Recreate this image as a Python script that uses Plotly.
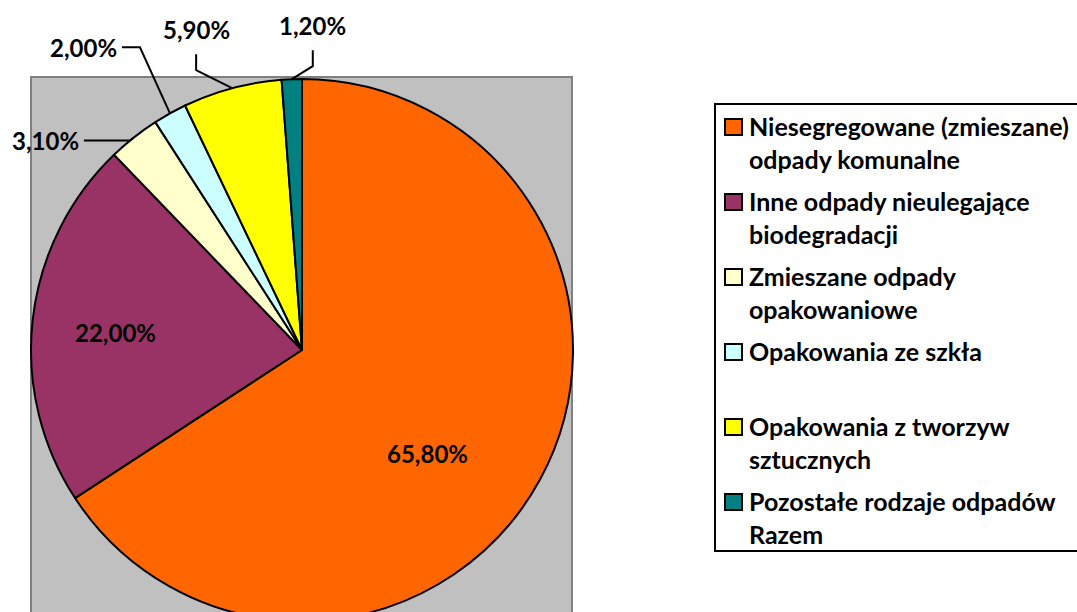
import math
import plotly.graph_objects as go

labels = [
    "Niesegregowane (zmieszane)<br>odpady komunalne",
    "Inne odpady nieulegające<br>biodegradacji",
    "Zmieszane odpady<br>opakowaniowe",
    "Opakowania ze szkła<br> ",
    "Opakowania z tworzyw<br>sztucznych",
    "Pozostałe rodzaje odpadów<br>Razem",
]
values = [65.8, 22.0, 3.1, 2.0, 5.9, 1.2]
colors = ["#FF6600", "#993366", "#FFFFCC", "#CCFFFF", "#FFFF00", "#008080"]

W, H = 1077, 630
CX, CY, R = 302, 350, 271
FONT = "Lato"
FS = 24

def px(x):
    return x / W

def py(y):
    return 1 - y / H

def pct(v):
    return f"{v:.2f}%".replace(".", ",")

# inside labels: radial fraction and angle nudge (deg)
inside = {0: (0.60, 11), 1: (0.69, -1)}
# callouts: elbow offset from slice edge, line end, label anchor (pixels)
callouts = {
    2: dict(elbow=(-4, 3), end=(-50, 3), anchor="right"),
    3: dict(elbow=(-30, -66), end=(-48, -66), anchor="right"),
    4: dict(elbow=(-36, -18), end=(-36, -34), anchor="center"),
    5: dict(elbow=(21, -13), end=(21, -29), anchor="center"),
}

fig = go.Figure()
fig.add_trace(go.Pie(
    labels=labels, values=values, sort=False, direction="clockwise",
    marker=dict(colors=colors, line=dict(color="black", width=2)),
    textinfo="none",
    domain=dict(x=[px(CX - R), px(CX + R)], y=[py(CY + R), py(CY - R)]),
    hoverinfo="skip", showlegend=False,
))

shapes = [dict(type="rect", xref="paper", yref="paper", layer="below",
               x0=px(31), x1=px(572), y0=-0.1, y1=py(77),
               fillcolor="#C0C0C0", line=dict(color="#808080", width=2))]
annotations = []
total = sum(values)
cum = 0
for i, v in enumerate(values):
    mid = (cum + v / 2) / total * 2 * math.pi
    cum += v
    if i in inside:
        f, nudge = inside[i]
        a = mid + math.radians(nudge)
        annotations.append(dict(x=px(CX + f * R * math.sin(a)), y=py(CY - f * R * math.cos(a)),
                                xref="paper", yref="paper", text=pct(v), showarrow=False,
                                xanchor="center", yanchor="middle"))
        continue
    ex, ey = CX + R * math.sin(mid), CY - R * math.cos(mid)
    c = callouts[i]
    bx, by = ex + c["elbow"][0], ey + c["elbow"][1]
    lx, ly = ex + c["end"][0], ey + c["end"][1]
    shapes.append(dict(type="path", xref="paper", yref="paper",
                       path=f"M {px(ex)},{py(ey)} L {px(bx)},{py(by)} L {px(lx)},{py(ly)}",
                       line=dict(color="black", width=2)))
    if c["anchor"] == "center":
        annotations.append(dict(x=px(lx), y=py(ly - 25), xref="paper", yref="paper",
                                text=pct(v), showarrow=False,
                                xanchor="center", yanchor="middle"))
    else:
        annotations.append(dict(x=px(lx - 3), y=py(ly), xref="paper", yref="paper",
                                text=pct(v), showarrow=False,
                                xanchor="right", yanchor="middle"))

# legend drawn by hand so the item spacing matches
LX, LY, LBOT, PITCH = 715, 104, 551, 75
shapes.append(dict(type="rect", xref="paper", yref="paper",
                   x0=px(LX), x1=px(W + 10), y0=py(LBOT), y1=py(LY),
                   fillcolor="white", line=dict(color="black", width=2)))
for i, (lab, col) in enumerate(zip(labels, colors)):
    yc = 127 + i * PITCH
    shapes.append(dict(type="rect", xref="paper", yref="paper",
                       x0=px(725), x1=px(742), y0=py(yc + 8), y1=py(yc - 8),
                       fillcolor=col, line=dict(color="black", width=2)))
    annotations.append(dict(x=px(747), y=py(yc + 15.5), xref="paper", yref="paper",
                            text=lab, showarrow=False, align="left",
                            font=dict(size=25),
                            xanchor="left", yanchor="middle"))

fig.update_layout(
    width=W, height=H,
    margin=dict(l=0, r=0, t=0, b=0),
    paper_bgcolor="white",
    font=dict(family=FONT, size=FS, color="black", weight="bold"),
    shapes=shapes, annotations=annotations,
    showlegend=False,
)

fig.write_html("out.html", config={"displayModeBar": False},
               post_script="document.body.style.margin='0';document.body.style.overflow='hidden';")
